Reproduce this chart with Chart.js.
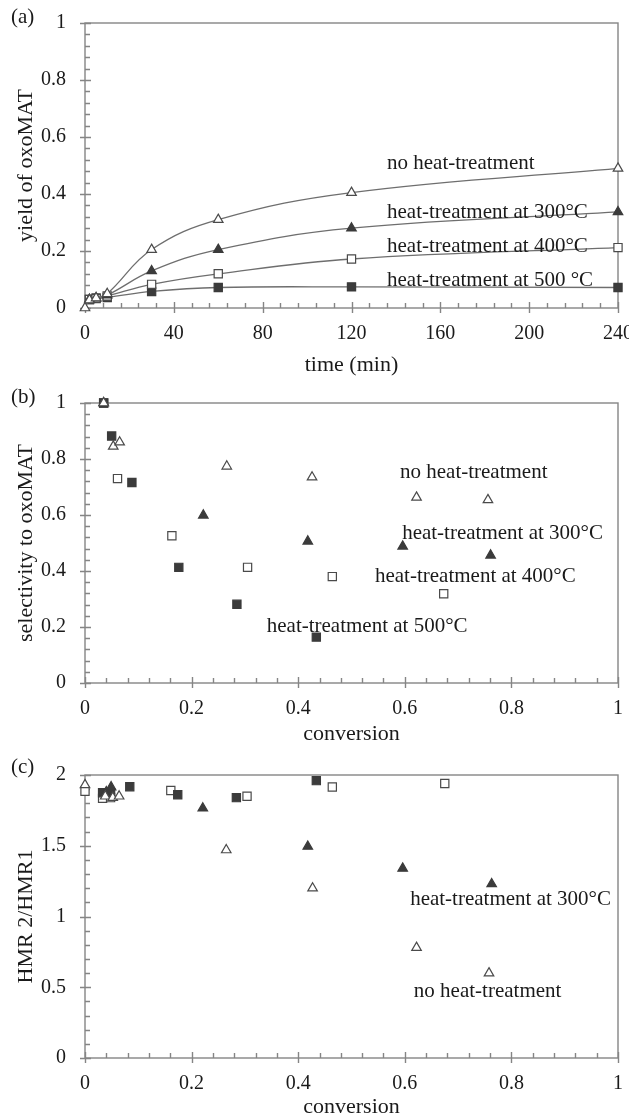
<!DOCTYPE html>
<html>
<head>
<meta charset="utf-8">
<script src="https://cdn.jsdelivr.net/npm/chart.js@4.4.0/dist/chart.umd.min.js"></script>
<style>
  html, body { margin: 0; padding: 0; background: #fff; overflow: hidden; }
  .panel { position: absolute; left: 0; }
  .tag { position: absolute; left: 11px; font: 21px "Liberation Serif", serif; line-height: 21px; color: #1a1a1a; }
</style>
</head>
<body>
<div class="panel" style="top:0"><canvas id="chartA" width="629" height="380"></canvas></div>
<div class="panel" style="top:380px"><canvas id="chartB" width="629" height="372"></canvas></div>
<div class="panel" style="top:752px"><canvas id="chartC" width="629" height="372"></canvas></div>
<div class="tag" style="top:6px">(a)</div>
<div class="tag" style="top:386px">(b)</div>
<div class="tag" style="top:756px">(c)</div>

<script>
// (a) yield of oxoMAT vs time
const timeNoHeat = [0, 2, 5, 10, 30, 60, 120, 240];
const yieldNoHeat = [0, 0.028, 0.035, 0.05, 0.205, 0.31, 0.405, 0.49];
const timeHeat = [2, 5, 10, 30, 60, 120, 240];
const yield300 = [0.03, 0.035, 0.045, 0.13, 0.205, 0.28, 0.337];
const yield400 = [0.03, 0.033, 0.042, 0.083, 0.12, 0.172, 0.212];
const yield500 = [0.03, 0.035, 0.037, 0.058, 0.072, 0.074, 0.072];

// (b) selectivity vs conversion
const convB_noHeat = [0.035, 0.053, 0.065, 0.266, 0.426, 0.622, 0.756];
const selB_noHeat = [1.0, 0.845, 0.86, 0.774, 0.735, 0.663, 0.654];
const convB_300 = [0.035, 0.222, 0.418, 0.596, 0.761];
const selB_300 = [1.0, 0.599, 0.506, 0.488, 0.456];
const convB_400 = [0.035, 0.061, 0.163, 0.305, 0.464, 0.673];
const selB_400 = [1.0, 0.73, 0.526, 0.413, 0.38, 0.319];
const convB_500 = [0.035, 0.05, 0.088, 0.176, 0.285, 0.434];
const selB_500 = [1.0, 0.882, 0.716, 0.413, 0.281, 0.164];

// (c) HMR 2/HMR1 vs conversion
const convC_noHeat = [0, 0.038, 0.052, 0.064, 0.265, 0.427, 0.622, 0.758];
const hmrC_noHeat = [1.93, 1.85, 1.84, 1.85, 1.47, 1.2, 0.78, 0.6];
const convC_300 = [0.04, 0.049, 0.221, 0.418, 0.596, 0.763];
const hmrC_300 = [1.88, 1.915, 1.765, 1.495, 1.34, 1.23];
const convC_400 = [0, 0.033, 0.048, 0.161, 0.304, 0.464, 0.675];
const hmrC_400 = [1.885, 1.835, 1.84, 1.89, 1.85, 1.915, 1.94];
const convC_500 = [0.033, 0.048, 0.084, 0.174, 0.284, 0.434];
const hmrC_500 = [1.875, 1.875, 1.917, 1.86, 1.84, 1.96];

const SERIF = '"Liberation Serif", "Times New Roman", serif';
const TEXT = '#1a1a1a';
const AXIS = '#858585';
const DARK = '#3b3b3b';

function pts(xs, ys) {
    return xs.map((x, i) => ({ x: x, y: ys[i] }));
}

// marker styles
function marker(kind) {
    const filled = kind === 'fTri' || kind === 'fSq';
    const tri = kind === 'fTri' || kind === 'oTri';
    return {
        pointStyle: tri ? 'triangle' : 'rect',
        pointRadius: tri ? 5.5 : 5.8,
        pointBackgroundColor: filled ? DARK : '#ffffff',
        pointBorderColor: filled ? DARK : '#4a4a4a',
        pointBorderWidth: 1.2,
        pointHoverRadius: tri ? 5.5 : 5.8,
        clip: false
    };
}

// frame, crossing major ticks, inner minor ticks and text notes
const frameTicks = {
    id: 'frameTicks',
    beforeDatasetsDraw(chart, args, opts) {
        const { ctx, chartArea: a, scales } = chart;
        const x = scales.x, y = scales.y;
        ctx.save();
        ctx.strokeStyle = AXIS;
        ctx.lineWidth = 1.4;
        ctx.strokeRect(a.left, a.top, a.right - a.left, a.bottom - a.top);
        ctx.beginPath();
        let n = Math.round((x.max - x.min) / opts.xMinor);
        let every = Math.round(opts.xMajor / opts.xMinor);
        for (let i = 0; i <= n; i++) {
            const px = Math.round(x.getPixelForValue(x.min + i * opts.xMinor)) + 0.5;
            const major = i % every === 0;
            ctx.moveTo(px, a.bottom + (major ? 5 : 0));
            ctx.lineTo(px, a.bottom - (major ? 6 : 5));
        }
        n = Math.round((y.max - y.min) / opts.yMinor);
        every = Math.round(opts.yMajor / opts.yMinor);
        for (let i = 0; i <= n; i++) {
            const py = Math.round(y.getPixelForValue(y.min + i * opts.yMinor)) + 0.5;
            const major = i % every === 0;
            ctx.moveTo(a.left - (major ? 5 : 0), py);
            ctx.lineTo(a.left + (major ? 6 : 5), py);
        }
        ctx.stroke();
        ctx.restore();
    },
    afterDatasetsDraw(chart, args, opts) {
        const { ctx, scales } = chart;
        ctx.save();
        ctx.fillStyle = TEXT;
        ctx.font = '21px ' + SERIF;
        ctx.textAlign = 'left';
        ctx.textBaseline = 'middle';
        (opts.notes || []).forEach(nt => {
            ctx.fillText(nt.text, scales.x.getPixelForValue(nt.x), scales.y.getPixelForValue(nt.y));
        });
        ctx.restore();
    }
};

const plainNum = v => String(Number(v.toFixed(2)));

function scalesFor(xMax, xStep, yMax, yStep, xTitle, yTitle, xAxisH, xTitlePad) {
    return {
        x: {
            type: 'linear', min: 0, max: xMax,
            grid: { display: false }, border: { display: false },
            ticks: { stepSize: xStep, padding: 6, color: TEXT, font: { family: SERIF, size: 20 }, callback: plainNum },
            title: { display: true, text: xTitle, color: TEXT, font: { family: SERIF, size: 22 }, padding: { top: 0, bottom: xTitlePad } },
            afterFit(s) { s.height = xAxisH; s.paddingLeft = 0; s.paddingRight = 0; }
        },
        y: {
            type: 'linear', min: 0, max: yMax,
            grid: { display: false }, border: { display: false },
            ticks: { stepSize: yStep, padding: 11, color: TEXT, font: { family: SERIF, size: 20 }, callback: plainNum },
            title: { display: true, text: yTitle, color: TEXT, font: { family: SERIF, size: 22 }, padding: { top: 13, bottom: 0 } },
            afterFit(s) { s.width = 85; }
        }
    };
}

function baseOptions(padTop, scales, frame) {
    return {
        responsive: false,
        animation: false,
        layout: { padding: { top: padTop, right: 11, left: 0, bottom: 0 } },
        scales: scales,
        plugins: { legend: { display: false }, tooltip: { enabled: false }, frameTicks: frame }
    };
}

const lineStyle = { showLine: true, borderColor: '#6e6e6e', borderWidth: 1.3, tension: 0.4, fill: false };

new Chart(document.getElementById('chartA'), {
    type: 'scatter',
    data: {
        datasets: [
            Object.assign({ label: 'no heat-treatment', data: pts(timeNoHeat, yieldNoHeat) }, lineStyle, marker('oTri')),
            Object.assign({ label: 'heat-treatment at 300°C', data: pts(timeHeat, yield300) }, lineStyle, marker('fTri')),
            Object.assign({ label: 'heat-treatment at 400°C', data: pts(timeHeat, yield400) }, lineStyle, marker('oSq')),
            Object.assign({ label: 'heat-treatment at 500 °C', data: pts(timeHeat, yield500) }, lineStyle, marker('fSq'))
        ]
    },
    options: baseOptions(16, scalesFor(240, 40, 1, 0.2, 'time (min)', 'yield of oxoMAT', 72, 2), {
        xMinor: 8, xMajor: 40, yMinor: 0.04, yMajor: 0.2,
        notes: [
            { text: 'no heat-treatment', x: 136, y: 0.507 },
            { text: 'heat-treatment at 300°C', x: 136, y: 0.336 },
            { text: 'heat-treatment at 400°C', x: 136, y: 0.216 },
            { text: 'heat-treatment at 500 °C', x: 136, y: 0.096 }
        ]
    }),
    plugins: [frameTicks]
});

new Chart(document.getElementById('chartB'), {
    type: 'scatter',
    data: {
        datasets: [
            Object.assign({ label: 'no heat-treatment', data: pts(convB_noHeat, selB_noHeat) }, marker('oTri')),
            Object.assign({ label: 'heat-treatment at 500°C', data: pts(convB_500, selB_500) }, marker('fSq')),
            Object.assign({ label: 'heat-treatment at 300°C', data: pts(convB_300, selB_300) }, marker('fTri')),
            Object.assign({ label: 'heat-treatment at 400°C', data: pts(convB_400, selB_400) }, marker('oSq'))
        ]
    },
    options: baseOptions(17, scalesFor(1, 0.2, 1, 0.2, 'conversion', 'selectivity to oxoMAT', 69, 5), {
        xMinor: 0.04, xMajor: 0.2, yMinor: 0.04, yMajor: 0.2,
        notes: [
            { text: 'no heat-treatment', x: 0.591, y: 0.752 },
            { text: 'heat-treatment at 300°C', x: 0.595, y: 0.535 },
            { text: 'heat-treatment at 400°C', x: 0.544, y: 0.381 },
            { text: 'heat-treatment at 500°C', x: 0.341, y: 0.203 }
        ]
    }),
    plugins: [frameTicks]
});

new Chart(document.getElementById('chartC'), {
    type: 'scatter',
    data: {
        datasets: [
            Object.assign({ label: 'no heat-treatment', data: pts(convC_noHeat, hmrC_noHeat) }, marker('oTri')),
            Object.assign({ label: 'heat-treatment at 300°C', data: pts(convC_300, hmrC_300) }, marker('fTri')),
            Object.assign({ label: 'heat-treatment at 500°C', data: pts(convC_500, hmrC_500) }, marker('fSq')),
            Object.assign({ label: 'heat-treatment at 400°C', data: pts(convC_400, hmrC_400) }, marker('oSq'))
        ]
    },
    options: baseOptions(15, scalesFor(1, 0.2, 2, 0.5, 'conversion', 'HMR 2/HMR1', 66, 4), {
        xMinor: 0.04, xMajor: 0.2, yMinor: 0.1, yMajor: 0.5,
        notes: [
            { text: 'heat-treatment at 300°C', x: 0.61, y: 1.12 },
            { text: 'no heat-treatment', x: 0.617, y: 0.467 }
        ]
    }),
    plugins: [frameTicks]
});
</script>
</body>
</html>
